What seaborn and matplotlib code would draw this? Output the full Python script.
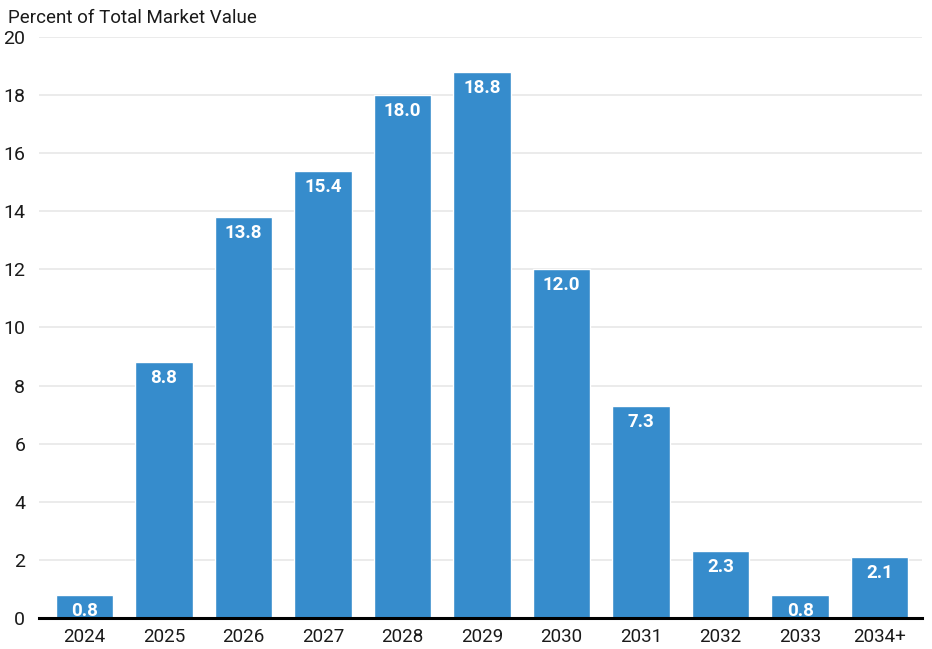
import matplotlib
matplotlib.use("Agg")
import matplotlib.pyplot as plt
import seaborn as sns
import pandas as pd

years = ["2024", "2025", "2026", "2027", "2028", "2029", "2030", "2031", "2032", "2033", "2034+"]
shares = [0.8, 8.8, 13.8, 15.4, 18.0, 18.8, 12.0, 7.3, 2.3, 0.8, 2.1]
y_ticks = [0, 2, 4, 6, 8, 10, 12, 14, 16, 18, 20]

sns.set_theme(style="white")
plt.rcParams["font.family"] = ["Roboto", "DejaVu Sans"]

df = pd.DataFrame({"year": years, "share": shares})

fig = plt.figure(figsize=(9.32, 6.49), dpi=100)
ax = fig.add_axes([0.042, 0.048, 0.947, 0.895])

sns.barplot(data=df, x="year", y="share", color="#368ccc", saturation=1,
            width=0.72, ax=ax, zorder=3)

ax.set_ylim(0, 20)
ax.set_xlim(-0.57, len(years) - 0.47)
ax.set_yticks(y_ticks)
ax.set_yticklabels([str(t) for t in y_ticks], fontsize=14, color="#1a1a1a")
ax.tick_params(axis="x", labelsize=13.5, colors="#1a1a1a", length=0, pad=7)
ax.tick_params(axis="y", length=0, pad=10)
ax.grid(axis="y", color="#e6e6e6", linewidth=1.1, zorder=0)
ax.set_axisbelow(True)
for s in ["top", "right", "left"]:
    ax.spines[s].set_visible(False)
ax.spines["bottom"].set_color("black")
ax.spines["bottom"].set_linewidth(2.2)
ax.spines["bottom"].set_zorder(5)
ax.set_xlabel("")
ax.set_ylabel("")

for i, v in enumerate(shares):
    ax.annotate(f"{v:.1f}", (i, v), xytext=(0, -5), textcoords="offset points",
                ha="center", va="top", color="white", fontsize=13.5,
                fontweight="bold", zorder=6)

fig.text(0.009, 0.972, "Percent of Total Market Value", fontsize=13.5,
         color="#1a1a1a", ha="left", va="center")

fig.savefig("out.png", dpi=100)
